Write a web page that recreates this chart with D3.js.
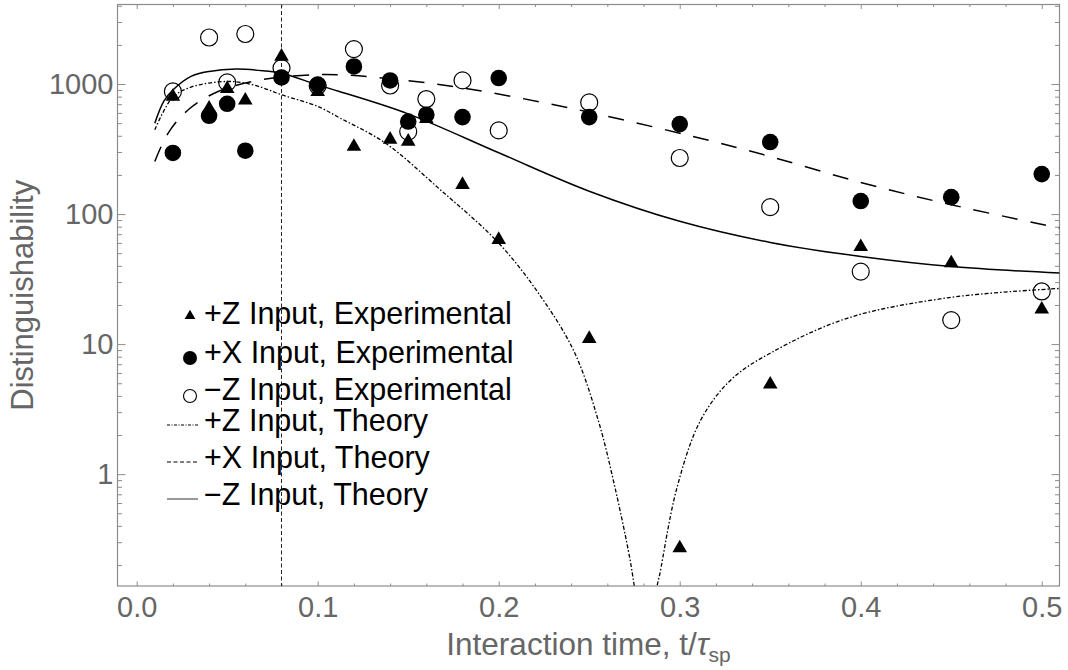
<!DOCTYPE html>
<html><head><meta charset="utf-8">
<script src="https://cdn.jsdelivr.net/npm/d3@7"></script>
<style>
html,body{margin:0;padding:0;background:#fff;}
svg{display:block;font-family:"Liberation Sans",Arial,sans-serif;}
</style></head>
<body>
<svg id="chart" width="1068" height="670"></svg>
<script>
// ---------- data ----------
const times = [0.02,0.04,0.05,0.06,0.08,0.10,0.12,0.14,0.15,0.16,0.18,0.20,0.25,0.30,0.35,0.40,0.45,0.50];
const plusZExp  = [800, 650, 920, 750, 1630, 870, 330, 375, 362, 540, 168, 63.5, 11, 0.27, 4.9, 56, 42, 18.5];
const plusXExp  = [295, 570, 705, 307, 1124, 990, 1366, 1066, 515, 581, 557, 1112, 557, 492, 358, 126, 135, 203];
const minusZExp = [877, 2280, 1030, 2425, 1327, 970, 1857, 975, 431, 767, 1066, 440, 722, 270, 113, 36.1, 15.3, 25.4];

const minusZTheoryT = [0.01, 0.015, 0.02, 0.03, 0.04, 0.055, 0.07, 0.08, 0.10, 0.112, 0.15, 0.20, 0.25, 0.30, 0.35, 0.40, 0.45, 0.51];
const minusZTheoryV = [500, 740, 900, 1144, 1250, 1305, 1265, 1210, 985, 877, 590, 296, 150, 88, 60.5, 47.2, 39.5, 35.2];

const plusXTheoryT = [0.01, 0.0174, 0.0285, 0.045, 0.069, 0.0984, 0.1115, 0.14, 0.1806, 0.2395, 0.3058, 0.35, 0.40, 0.45, 0.51];
const plusXTheoryV = [254, 420, 634, 877, 1080, 1179, 1179, 1100, 931, 653, 400, 277, 175, 118, 78];

const plusZTheoryLeftT = [0.01, 0.02, 0.03, 0.04, 0.05, 0.06, 0.07, 0.08, 0.10, 0.1124, 0.1373, 0.1677, 0.20, 0.223, 0.2418, 0.255, 0.2644, 0.2723, 0.2749, 0.2765];
const plusZTheoryLeftV = [445, 795, 948, 1018, 1047, 1018, 932, 827, 673, 547, 352, 154, 59.8, 23.5, 8.67, 2.59, 0.77, 0.23, 0.138, 0.1];
const plusZTheoryRightT = [0.2865, 0.2875, 0.289, 0.2983, 0.3115, 0.3285, 0.351, 0.3925, 0.449, 0.51];
const plusZTheoryRightV = [0.1, 0.138, 0.171, 0.77, 2.59, 5.35, 8.67, 15.8, 22.8, 26.8];

const markerLine = 0.08;
const xTickLabels = ["0.0","0.1","0.2","0.3","0.4","0.5"];
const xMajor = [0, 0.1, 0.2, 0.3, 0.4, 0.5];
const yMajor = [1, 10, 100, 1000];
const yTickLabels = ["1","10","100","1000"];
const legendLabels = ["+Z Input, Experimental","+X Input, Experimental","\u2212Z Input, Experimental","+Z Input, Theory","+X Input, Theory","\u2212Z Input, Theory"];

// ---------- layout ----------
const L = 117.5, R = 1059.5, T = 4.5, B = 586;
const svg = d3.select("#chart");
const x = d3.scaleLinear().domain([-0.0106, 0.5098]).range([L, R]);
const y = d3.scaleLog().domain([0.138, 4090]).range([B, T]);

const gray = "#8c8c8c", labelGray = "#666666";

svg.append("defs").append("clipPath").attr("id","clip")
  .append("rect").attr("x",L).attr("y",T).attr("width",R-L).attr("height",B-T);

// minor tick values
const xMinor = d3.range(0, 0.52, 0.02).filter(v => !xMajor.some(m => Math.abs(m-v) < 1e-9));
const yMinor = [];
for (let e = -1; e <= 3; e++) for (let k = 2; k <= 9; k++) {
  const v = k * Math.pow(10, e);
  if (v >= 0.138 && v <= 4090) yMinor.push(v);
}

function styleAxis(g){
  g.select(".domain").remove();
  g.selectAll("line").attr("stroke", gray);
  g.selectAll("text").attr("fill", labelGray).attr("font-size", 29);
}
// bottom
svg.append("g").attr("transform",`translate(0,${B})`)
  .call(d3.axisBottom(x).tickValues(xMajor).tickSize(-4.5).tickPadding(10).tickFormat((d,i)=>xTickLabels[i]))
  .call(styleAxis);
svg.append("g").attr("transform",`translate(0,${B})`)
  .call(d3.axisBottom(x).tickValues(xMinor).tickSize(-2.5).tickFormat(""))
  .call(styleAxis);
// top
svg.append("g").attr("transform",`translate(0,${T})`)
  .call(d3.axisTop(x).tickValues(xMajor).tickSize(-4.5).tickFormat(""))
  .call(styleAxis);
svg.append("g").attr("transform",`translate(0,${T})`)
  .call(d3.axisTop(x).tickValues(xMinor).tickSize(-2.5).tickFormat(""))
  .call(styleAxis);
// left
svg.append("g").attr("transform",`translate(${L},0)`)
  .call(d3.axisLeft(y).tickValues(yMajor).tickSize(-8).tickPadding(4).tickFormat((d,i)=>yTickLabels[i]))
  .call(styleAxis);
svg.append("g").attr("transform",`translate(${L},0)`)
  .call(d3.axisLeft(y).tickValues(yMinor).tickSize(-4.5).tickFormat(""))
  .call(styleAxis);
// right
svg.append("g").attr("transform",`translate(${R},0)`)
  .call(d3.axisRight(y).tickValues(yMajor).tickSize(-8).tickFormat(""))
  .call(styleAxis);
svg.append("g").attr("transform",`translate(${R},0)`)
  .call(d3.axisRight(y).tickValues(yMinor).tickSize(-4.5).tickFormat(""))
  .call(styleAxis);

// frame
svg.append("rect").attr("x",L).attr("y",T).attr("width",R-L).attr("height",B-T)
  .attr("fill","none").attr("stroke",gray).attr("stroke-width",1.2);

// axis titles
svg.append("text").attr("transform",`translate(33,${(T+B)/2}) rotate(-90)`)
  .attr("text-anchor","middle").attr("fill",labelGray).attr("font-size",31)
  .text("Distinguishability");
const xt = svg.append("text").attr("x",(L+R)/2).attr("y",655).attr("text-anchor","middle")
  .attr("fill",labelGray).attr("font-size",31.5);
xt.append("tspan").text("Interaction time, t/");
xt.append("tspan").attr("font-style","italic").text("\u03C4");
xt.append("tspan").attr("font-size",21).attr("dy",7).text("sp");

// ---------- curves ----------
const plot = svg.append("g").attr("clip-path","url(#clip)");
const line = d3.line().x(d=>x(d[0])).y(d=>y(d[1])).curve(d3.curveCatmullRom.alpha(0.5));
const zip = (a,b)=>a.map((v,i)=>[v,b[i]]);

plot.append("line").attr("x1",x(markerLine)).attr("x2",x(markerLine)).attr("y1",T).attr("y2",B)
  .attr("stroke","#222").attr("stroke-width",1).attr("stroke-dasharray","4,2.5");

plot.append("path").datum(zip(minusZTheoryT,minusZTheoryV)).attr("d",line)
  .attr("fill","none").attr("stroke","#000").attr("stroke-width",1.5);
plot.append("path").datum(zip(plusXTheoryT,plusXTheoryV)).attr("d",line)
  .attr("fill","none").attr("stroke","#000").attr("stroke-width",1.5).attr("stroke-dasharray","16,13");
[zip(plusZTheoryLeftT,plusZTheoryLeftV), zip(plusZTheoryRightT,plusZTheoryRightV)].forEach(seg=>{
  plot.append("path").datum(seg).attr("d",line)
    .attr("fill","none").attr("stroke","#000").attr("stroke-width",1.3).attr("stroke-dasharray","4,2,1.5,2");
});

// ---------- markers ----------
const tri = d3.symbol().type(d3.symbolTriangle).size(92)();
plot.selectAll(".open").data(zip(times,minusZExp)).join("circle")
  .attr("cx",d=>x(d[0])).attr("cy",d=>y(d[1])).attr("r",8.5)
  .attr("fill","none").attr("stroke","#000").attr("stroke-width",1.2);
plot.selectAll(".tri").data(zip(times,plusZExp)).join("path")
  .attr("d",tri).attr("transform",d=>`translate(${x(d[0])},${y(d[1])})`).attr("fill","#000");
plot.selectAll(".fill").data(zip(times,plusXExp)).join("circle")
  .attr("cx",d=>x(d[0])).attr("cy",d=>y(d[1])).attr("r",8.3).attr("fill","#000");

// ---------- legend ----------
const leg = svg.append("g");
const baselines = [324, 363, 400, 431, 468, 505];
legendLabels.forEach((t,i)=>{
  leg.append("text").attr("x",204).attr("y",baselines[i]).attr("font-size",30.5).attr("fill","#000").text(t);
});
leg.append("path").attr("d",d3.symbol().type(d3.symbolTriangle).size(50)()).attr("transform","translate(190,316)").attr("fill","#000");
leg.append("circle").attr("cx",190).attr("cy",358).attr("r",7).attr("fill","#000");
leg.append("circle").attr("cx",190).attr("cy",396).attr("r",6.5).attr("fill","none").attr("stroke","#000").attr("stroke-width",1.1);
const legLines = [[425,"3,1.5,1,1.5","#000"],[462,"4,2.5","#000"],[499,null,"#555"]];
legLines.forEach(([yy,dash,c])=>{
  const l = leg.append("line").attr("x1",167).attr("x2",198).attr("y1",yy).attr("y2",yy)
    .attr("stroke",c).attr("stroke-width",1.2);
  if (dash) l.attr("stroke-dasharray",dash);
});
</script>
</body></html>
